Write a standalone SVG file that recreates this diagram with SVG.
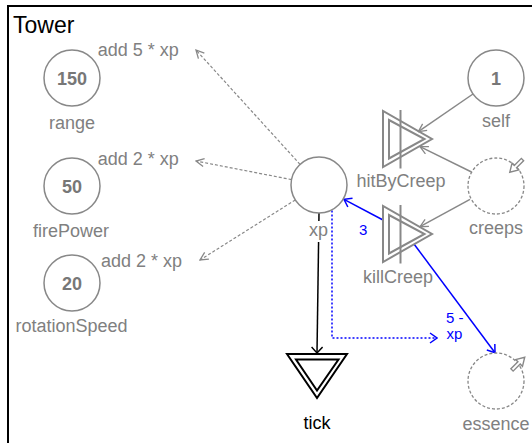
<svg xmlns="http://www.w3.org/2000/svg" width="532" height="443" viewBox="0 0 532 443">
<defs>
<style>
.lbl{font-family:"Liberation Sans",Arial,sans-serif;font-size:18px;fill:#808080;text-anchor:middle}
.alb{font-family:"Liberation Sans",Arial,sans-serif;font-size:18px;fill:#808080}
.num{font-family:"Liberation Sans",Arial,sans-serif;font-size:18px;font-weight:bold;fill:#777;text-anchor:middle}
.node{fill:#fff;stroke:#888;stroke-width:1.5}
.dnode{fill:#fff;stroke:#888;stroke-width:1.3;stroke-dasharray:3 2}
.tri{fill:none;stroke:#888;stroke-width:2}
.btri{fill:none;stroke:#000;stroke-width:2}
.conn{fill:none;stroke:#888;stroke-width:1.5}
.dot{fill:none;stroke:#888;stroke-width:1.2;stroke-dasharray:3 2}
.blue{fill:none;stroke:#00f;stroke-width:1.5}
.bdot{fill:none;stroke:#00f;stroke-width:1.5;stroke-dasharray:2 2}
.blbl{font-family:"Liberation Sans",Arial,sans-serif;font-size:15px;fill:#00f}
.icon{fill:#fff;stroke:#888;stroke-width:1.4}
</style>
<marker id="mg" viewBox="0 0 10 10" refX="9" refY="5" markerWidth="10" markerHeight="10" orient="auto" markerUnits="userSpaceOnUse"><path d="M1,1 L9,5 L1,9" fill="none" stroke="#888" stroke-width="1.3"/></marker>
<marker id="mk" viewBox="0 0 10 12" refX="9" refY="6" markerWidth="10" markerHeight="12" orient="auto" markerUnits="userSpaceOnUse"><path d="M3,0.5 L9,6 L3,11.5" fill="none" stroke="#000" stroke-width="1.4"/></marker>
<marker id="mb" viewBox="0 0 10 12" refX="9" refY="6" markerWidth="10" markerHeight="12" orient="auto" markerUnits="userSpaceOnUse"><path d="M2,1 L9,6 L2,11" fill="none" stroke="#00f" stroke-width="1.5"/></marker>
<path id="arr" d="M0,-1.6 L10,-1.6 L10,-4.8 L18,0 L10,4.8 L10,1.6 L0,1.6 Z"/>
</defs>
<rect x="8" y="6" width="540" height="450" fill="#fff" stroke="#000" stroke-width="2"/>
<text x="13" y="33" style="font-family:'Liberation Sans',Arial,sans-serif;font-size:23px;fill:#000">Tower</text>
<g id="connectors">
<path class="dot" d="M300,164.3 L196,50" marker-end="url(#mg)"/>
<path class="dot" d="M291.5,179.6 L196,161" marker-end="url(#mg)"/>
<path class="dot" d="M295.3,199.9 L200,260" marker-end="url(#mg)"/>
<path class="conn" d="M473,94 L418.3,131.7" marker-end="url(#mg)"/>
<path class="conn" d="M471.5,172 L420,146.7" marker-end="url(#mg)"/>
<path class="conn" d="M470,199.3 L420,226.7" marker-end="url(#mg)"/>
<path fill="none" stroke="#000" stroke-width="1.5" d="M319,213 L317,353" marker-end="url(#mk)"/>
<path class="blue" d="M383,220 L344,199.3" marker-end="url(#mb)"/>
<path class="blue" d="M414,244 L495,352.7" marker-end="url(#mb)"/>
<path class="bdot" d="M332,210.5 L332,338 L437,338" marker-end="url(#mb)"/>
<text class="blbl" x="359" y="234.5">3</text>
<text class="blbl" x="446" y="322.5">5 -</text>
<text class="blbl" x="446.5" y="338.5">xp</text>
<text class="alb" x="97.7" y="56">add 5 * xp</text>
<text class="alb" x="97.7" y="165">add 2 * xp</text>
<text class="alb" x="101" y="267">add 2 * xp</text>
</g>
<g id="range">
<circle class="node" cx="72" cy="78" r="28"/>
<text class="num" x="72" y="84.5">150</text>
<text class="lbl" x="72" y="128.5">range</text>
</g>
<g id="firePower">
<circle class="node" cx="72" cy="186" r="28"/>
<text class="num" x="72" y="192.5">50</text>
<text class="lbl" x="71" y="236.5">firePower</text>
</g>
<g id="rotationSpeed">
<circle class="node" cx="72" cy="283" r="28"/>
<text class="num" x="72" y="289.5">20</text>
<text class="lbl" x="71.5" y="332">rotationSpeed</text>
</g>
<g id="xp">
<circle class="node" cx="319" cy="185" r="28"/>
<rect x="308" y="221" width="21" height="21" fill="#fff"/>
<text class="lbl" x="318.5" y="235.5">xp</text>
</g>
<g id="self">
<circle class="node" cx="496" cy="78" r="28"/>
<text class="num" x="496" y="84.5">1</text>
<text class="lbl" x="496" y="126.5">self</text>
</g>
<g id="creeps">
<circle class="dnode" cx="496" cy="186" r="28"/>
<use href="#arr" class="icon" transform="translate(522.5,159.5) rotate(135)"/>
<text class="lbl" x="496" y="233.5">creeps</text>
</g>
<g id="essence">
<circle class="dnode" cx="496" cy="381" r="28"/>
<use href="#arr" class="icon" transform="translate(512,370) rotate(-45)"/>
<text class="lbl" x="496" y="430">essence</text>
</g>
<g id="hitByCreep">
<polygon class="tri" points="383,111 383,167 432,139"/>
<polygon class="tri" points="389,120 389,158.5 424.5,139"/>
<line class="tri" x1="400.5" y1="110" x2="400.5" y2="168.5"/>
<text class="lbl" x="401" y="187">hitByCreep</text>
</g>
<g id="killCreep">
<polygon class="tri" points="383,206 383,262 432,234"/>
<polygon class="tri" points="389,215 389,253.5 424.5,234"/>
<line class="tri" x1="400.5" y1="205" x2="400.5" y2="263.5"/>
<text class="lbl" x="398" y="282.5">killCreep</text>
</g>
<g id="tick">
<polygon class="btri" points="287,354 347,354 317,398"/>
<polygon class="btri" points="296,359.5 338.5,359.5 317,390.5"/>
<text class="lbl" x="317" y="429" style="fill:#000">tick</text>
</g>
</svg>
